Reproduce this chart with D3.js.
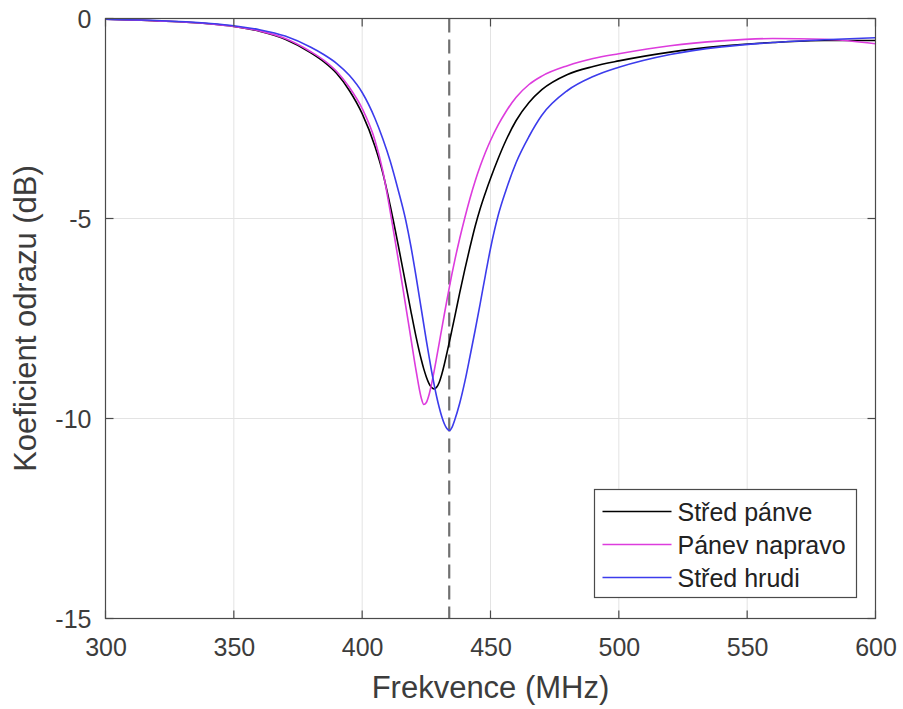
<!DOCTYPE html>
<html>
<head>
<meta charset="utf-8">
<script src="https://cdn.jsdelivr.net/npm/d3@7"></script>
<style>
  html, body { margin: 0; padding: 0; background: #fff; }
  svg { display: block; font-family: "Liberation Sans", Arial, sans-serif; }
</style>
</head>
<body>
<svg id="chart" width="903" height="709"></svg>
<script>
// ---- data ----
const freq = [300, 320, 340, 350, 360, 370, 380, 385, 390, 395, 400, 405, 408, 411, 414, 417, 419, 421, 423, 424, 425, 426, 427, 428, 429, 430, 431, 432, 433, 434, 435, 436, 438, 440, 442, 444, 446, 448, 450, 453, 456, 460, 465, 470, 480, 490, 500, 520, 540, 560, 580, 600];
const stredPanve = [-0.02, -0.06, -0.13, -0.2, -0.32, -0.52, -0.86, -1.08, -1.37, -1.8, -2.38, -3.2, -3.85, -4.7, -5.65, -6.65, -7.32, -7.96, -8.52, -8.76, -8.96, -9.12, -9.22, -9.26, -9.22, -9.1, -8.9, -8.65, -8.37, -8.08, -7.78, -7.48, -6.86, -6.27, -5.72, -5.2, -4.75, -4.36, -4.0, -3.5, -3.05, -2.55, -2.1, -1.78, -1.4, -1.2, -1.06, -0.84, -0.69, -0.6, -0.55, -0.55];
const panevNapravo = [-0.02, -0.06, -0.13, -0.2, -0.31, -0.5, -0.83, -1.04, -1.32, -1.72, -2.25, -3.05, -3.8, -4.85, -6.0, -7.2, -8.0, -8.8, -9.48, -9.65, -9.6, -9.42, -9.15, -8.83, -8.48, -8.12, -7.76, -7.4, -7.05, -6.71, -6.38, -6.07, -5.5, -4.98, -4.5, -4.07, -3.69, -3.35, -3.05, -2.66, -2.33, -1.97, -1.65, -1.44, -1.18, -1.0, -0.88, -0.68, -0.56, -0.5, -0.52, -0.63];
const stredHrudi = [-0.02, -0.05, -0.12, -0.18, -0.28, -0.44, -0.72, -0.9, -1.12, -1.42, -1.85, -2.5, -3.0, -3.58, -4.28, -5.05, -5.7, -6.45, -7.25, -7.65, -8.05, -8.43, -8.8, -9.14, -9.45, -9.72, -9.95, -10.13, -10.25, -10.3, -10.22, -10.05, -9.62, -9.08, -8.45, -7.8, -7.12, -6.42, -5.75, -4.92, -4.3, -3.6, -2.95, -2.42, -1.8, -1.45, -1.22, -0.9, -0.71, -0.6, -0.53, -0.48];
const seriesNames = ["Střed pánve", "Pánev napravo", "Střed hrudi"];
const seriesColors = ["#000000", "#dd3cdd", "#3c3cec"];
const xTicks = [300, 350, 400, 450, 500, 550, 600];
const yTicks = [0, -5, -10, -15];
const markerFreq = 433.92;

// ---- layout ----
const svg = d3.select("#chart");
const L = 105.5, R = 875.5, T = 18.5, B = 618.5;
const x = d3.scaleLinear().domain([300, 600]).range([L, R]);
const y = d3.scaleLinear().domain([-15, 0]).range([B, T]);
const axisColor = "#4a4a4a";
const textColor = "#3c3c3c";

// grid
const g = svg.append("g");
g.selectAll(".gx").data(xTicks.slice(1, -1)).enter().append("line")
  .attr("x1", d => x(d)).attr("x2", d => x(d)).attr("y1", T).attr("y2", B)
  .attr("stroke", "#e3e3e3").attr("stroke-width", 1);
g.selectAll(".gy").data(yTicks.slice(1, -1)).enter().append("line")
  .attr("y1", d => y(d)).attr("y2", d => y(d)).attr("x1", L).attr("x2", R)
  .attr("stroke", "#e3e3e3").attr("stroke-width", 1);

// series
const allSeries = [stredPanve, panevNapravo, stredHrudi];
svg.append("defs").append("clipPath").attr("id", "clip")
  .append("rect").attr("x", L).attr("y", T).attr("width", R - L).attr("height", B - T);
const line = d3.line().x((d, i) => x(freq[i])).y(d => y(d)).curve(d3.curveMonotoneX);
const plot = svg.append("g").attr("clip-path", "url(#clip)");

// dashed marker
plot.append("line").attr("x1", x(markerFreq)).attr("x2", x(markerFreq)).attr("y1", T).attr("y2", B)
  .attr("stroke", "#707070").attr("stroke-width", 2.2).attr("stroke-dasharray", "14,7");

allSeries.forEach((s, k) => {
  plot.append("path").datum(s).attr("d", line)
    .attr("fill", "none").attr("stroke", seriesColors[k]).attr("stroke-width", 1.6)
    .attr("stroke-linejoin", "round");
});

// axes
const xAxis = d3.axisBottom(x).tickValues(xTicks).tickSize(0).tickPadding(20).tickFormat(d3.format("d"));
const yAxis = d3.axisLeft(y).tickValues(yTicks).tickSize(0).tickPadding(14).tickFormat(d => d === 0 ? "0" : String(d).replace("−", "-"));
const gx = svg.append("g").attr("transform", `translate(0,${B})`).call(xAxis);
const gy = svg.append("g").attr("transform", `translate(${L},0)`).call(yAxis);
[gx, gy].forEach(a => {
  a.select(".domain").remove();
  a.selectAll("text").attr("fill", textColor).style("font-size", "25px").style("font-family", "Liberation Sans, Arial, sans-serif");
});
gx.selectAll("text").attr("dy", "0.71em");
gy.selectAll("text").attr("dy", "0.36em");

// frame
svg.append("rect").attr("x", L).attr("y", T).attr("width", R - L).attr("height", B - T)
  .attr("fill", "none").attr("stroke", axisColor).attr("stroke-width", 1.2);
// inward ticks
svg.selectAll(".tkb").data(xTicks).enter().append("line")
  .attr("x1", d => x(d)).attr("x2", d => x(d)).attr("y1", B).attr("y2", B - 8)
  .attr("stroke", axisColor).attr("stroke-width", 1.2);
svg.selectAll(".tkt").data(xTicks).enter().append("line")
  .attr("x1", d => x(d)).attr("x2", d => x(d)).attr("y1", T).attr("y2", T + 8)
  .attr("stroke", axisColor).attr("stroke-width", 1.2);
svg.selectAll(".tkl").data(yTicks).enter().append("line")
  .attr("y1", d => y(d)).attr("y2", d => y(d)).attr("x1", L).attr("x2", L + 8)
  .attr("stroke", axisColor).attr("stroke-width", 1.2);
svg.selectAll(".tkr").data(yTicks).enter().append("line")
  .attr("y1", d => y(d)).attr("y2", d => y(d)).attr("x1", R).attr("x2", R - 8)
  .attr("stroke", axisColor).attr("stroke-width", 1.2);

// axis labels
svg.append("text").attr("x", (L + R) / 2).attr("y", 698).attr("text-anchor", "middle")
  .attr("fill", textColor).style("font-size", "31px").text("Frekvence (MHz)");
svg.append("text").attr("transform", `translate(36,${(T + B) / 2}) rotate(-90)`).attr("text-anchor", "middle")
  .attr("fill", textColor).style("font-size", "31px").text("Koeficient odrazu (dB)");

// legend
const lg = svg.append("g");
const lx = 594.5, ly = 489.5, lw = 262, lh = 108;
lg.append("rect").attr("x", lx).attr("y", ly).attr("width", lw).attr("height", lh)
  .attr("fill", "#fff").attr("stroke", axisColor).attr("stroke-width", 1.2);
seriesNames.forEach((n, k) => {
  const cy = ly + 22 + k * 33;
  lg.append("line").attr("x1", lx + 8).attr("x2", lx + 77).attr("y1", cy).attr("y2", cy)
    .attr("stroke", seriesColors[k]).attr("stroke-width", 1.6);
  lg.append("text").attr("x", lx + 83).attr("y", cy).attr("dy", "0.36em")
    .attr("fill", "#222").style("font-size", "25px").text(n);
});
</script>
</body>
</html>
